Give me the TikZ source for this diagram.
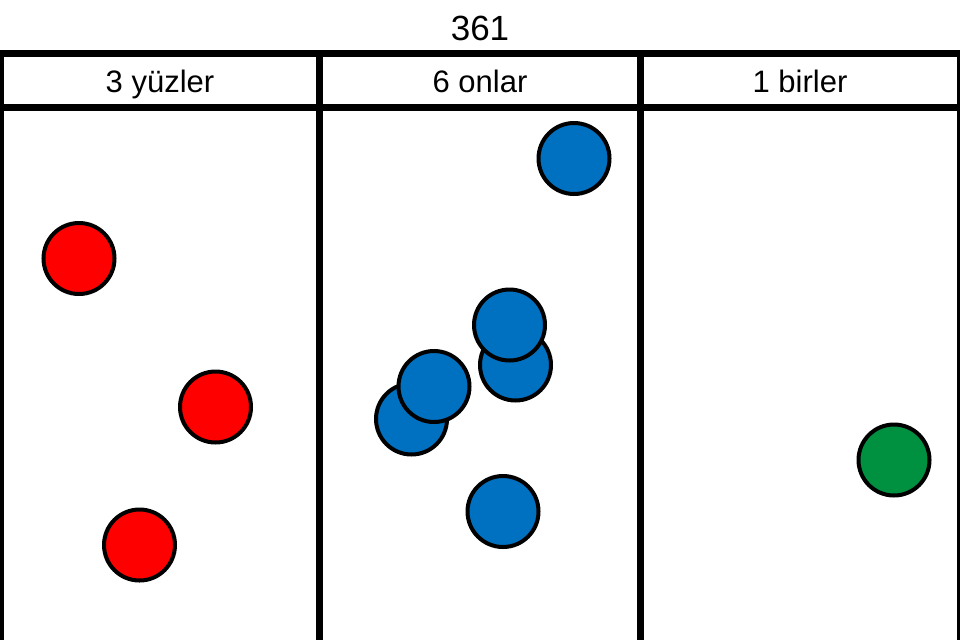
\documentclass[tikz,border=0pt]{standalone}
\usepackage{fontspec}
\setmainfont{Liberation Sans}
\definecolor{ballred}{RGB}{255,0,0}
\definecolor{ballblue}{RGB}{0,112,192}
\definecolor{ballgreen}{RGB}{0,145,64}
\begin{document}
\begin{tikzpicture}[x=1pt,y=-1pt,
  gridline/.style={line width=7pt,black},
  ball/.style={circle,draw=black,line width=4pt,minimum size=71pt,inner sep=0pt},
  headlabel/.style={anchor=base,inner sep=0pt,font=\fontsize{31}{36}\selectfont},
  titlelabel/.style={anchor=base,inner sep=0pt,font=\fontsize{35}{40}\selectfont}]
\useasboundingbox (0,0) rectangle (960,640);
\fill[white] (0,0) rectangle (960,640);
% grid
\draw[gridline] (0,53) -- (960,53);
\draw[gridline] (0,107) -- (960,107);
\draw[gridline] (0,53) -- (0,640);
\draw[gridline] (319.5,53) -- (319.5,640);
\draw[gridline] (640,53) -- (640,640);
\draw[gridline] (960,53) -- (960,640);
% texts
\node[titlelabel] (title) at (480,40) {361};
\node[headlabel] (h1) at (160,92) {3 yüzler};
\node[headlabel] (h2) at (480,92) {6 onlar};
\node[headlabel] (h3) at (800,92) {1 birler};
% red balls
\node[ball,fill=ballred] (r1) at (79,258.5) {};
\node[ball,fill=ballred] (r2) at (215.5,407) {};
\node[ball,fill=ballred] (r3) at (139.5,545) {};
% blue balls
\node[ball,fill=ballblue] (b1) at (574,158.5) {};
\node[ball,fill=ballblue] (b2) at (515.5,365) {};
\node[ball,fill=ballblue] (b3) at (509.5,325) {};
\node[ball,fill=ballblue] (b4) at (411.5,419) {};
\node[ball,fill=ballblue] (b5) at (434,386.5) {};
\node[ball,fill=ballblue] (b6) at (503,511.5) {};
% green ball
\node[ball,fill=ballgreen] (g1) at (894,460) {};
\end{tikzpicture}
\end{document}
